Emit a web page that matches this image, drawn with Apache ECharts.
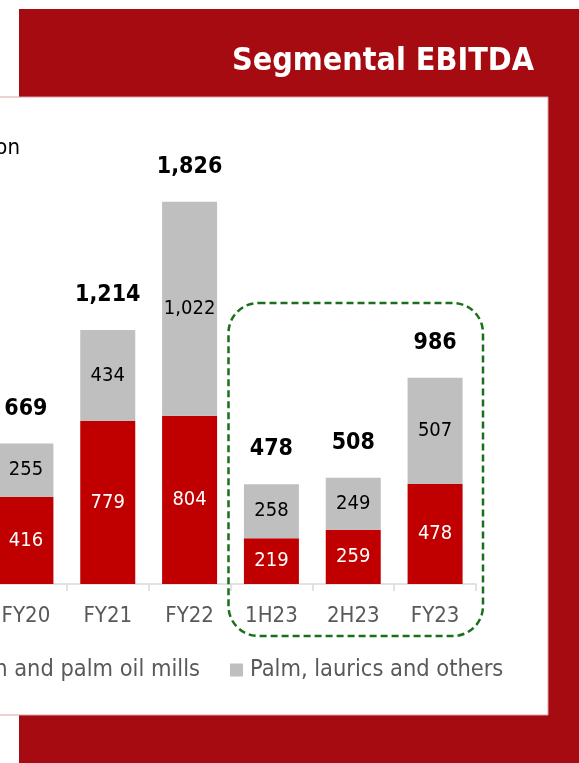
<!DOCTYPE html>
<html><head><meta charset="utf-8">
<script src="https://cdn.jsdelivr.net/npm/echarts@6/dist/echarts.min.js"></script>
<style>html,body{margin:0;padding:0;background:#fff;overflow:hidden;width:579px;height:763px;position:relative}
#c{position:absolute;left:-15px;top:0;width:594px;height:763px}</style>
</head><body><div id="c"></div>
<script>
const categories = ['FY20', 'FY21', 'FY22', '1H23', '2H23', 'FY23'];
const plantation = [416, 779, 804, 219, 259, 478];
const palmLaurics = [255, 434, 1022, 258, 249, 507];
const totals = [669, 1214, 1826, 478, 508, 986];
const seriesNames = ['Plantation and palm oil mills', 'Palm, laurics and others'];
const titleText = 'Segmental EBITDA';
const unitText = 'US$ million';
const highlighted = ['1H23', '2H23', 'FY23'];

const FONT = '"DejaVu Sans Condensed", "DejaVu Sans", sans-serif';
const OFF = 15; // container is shifted 15px left so the first category is partly cut off
const chart = echarts.init(document.getElementById('c'), null, {renderer: 'canvas'});

const option = {
  animation: false,
  backgroundColor: '#ffffff',
  textStyle: {fontFamily: FONT},
  grid: {left: 0, right: 103, top: 165.4, bottom: 179, containLabel: false},
  xAxis: {
    type: 'category',
    data: categories,
    axisLine: {lineStyle: {color: '#D9D9D9', width: 1.5}},
    axisTick: {show: true, length: 7, lineStyle: {color: '#D9D9D9', width: 1.5}},
    axisLabel: {color: '#595959', fontSize: 22, fontFamily: FONT, margin: 20, lineHeight: 24}
  },
  yAxis: {type: 'value', min: 0, max: 2000, show: false, splitLine: {show: false}},
  legend: [
    {
      data: [seriesNames[0]], right: 379, top: 657, padding: 0,
      icon: 'rect', itemWidth: 13, itemHeight: 13,
      textStyle: {color: '#595959', fontSize: 23.4, fontFamily: FONT, lineHeight: 26, padding: [0, 0, 0, 2]}
    },
    {
      data: [seriesNames[1]], left: 230 + OFF, top: 657, padding: 0,
      icon: 'rect', itemWidth: 13, itemHeight: 13,
      textStyle: {color: '#595959', fontSize: 23.4, fontFamily: FONT, lineHeight: 26, padding: [0, 0, 0, 2]}
    }
  ],
  series: [
    {
      name: seriesNames[0], type: 'bar', stack: 'ebitda', data: plantation, barWidth: 55,
      itemStyle: {color: '#C00000'},
      label: {show: true, position: 'inside', color: '#ffffff', fontSize: 20, fontFamily: FONT}
    },
    {
      name: seriesNames[1], type: 'bar', stack: 'ebitda', data: palmLaurics, barWidth: 55,
      itemStyle: {color: '#BFBFBF'},
      label: {show: true, position: 'inside', color: '#000000', fontSize: 20, fontFamily: FONT,
        formatter: p => p.value.toLocaleString('en-US')}
    },
    {
      name: 'Total', type: 'scatter', data: totals, symbolSize: 0, silent: true,
      itemStyle: {opacity: 1, color: '#000000'},
      label: {show: true, position: 'top', distance: 23, color: '#000000', opacity: 1, fontSize: 23,
        fontWeight: 'bold', fontFamily: FONT, lineHeight: 24,
        formatter: p => p.value.toLocaleString('en-US')}
    }
  ]
};
chart.setOption(option);

// decorations
const x0 = chart.convertToPixel({xAxisIndex: 0}, highlighted[0]);
const x1 = chart.convertToPixel({xAxisIndex: 0}, highlighted[highlighted.length - 1]);
const half = (chart.convertToPixel({xAxisIndex: 0}, categories[1]) - chart.convertToPixel({xAxisIndex: 0}, categories[0])) / 2;

chart.setOption({
  graphic: [
    {type: 'rect', z: -20, silent: true, shape: {x: 19 + OFF, y: 9, width: 580, height: 760}, style: {fill: '#A60B11'}},
    {type: 'rect', z: -10, silent: true, shape: {x: 0, y: 97, width: 548 + OFF, height: 618}, style: {fill: '#ffffff', stroke: '#D9A3A5', lineWidth: 1}},
    {type: 'text', z: 5, silent: true, style: {text: titleText, x: 534 + OFF, y: 62, align: 'right', verticalAlign: 'middle', fill: '#ffffff', font: 'bold 32px ' + FONT}},
    {type: 'text', z: 5, silent: true, style: {text: unitText, x: 20 + OFF, y: 148, align: 'right', verticalAlign: 'middle', fill: '#000000', font: '22px ' + FONT}},
    {type: 'rect', z: 10, silent: true,
      shape: {x: x0 - half - 2, y: 303, width: (x1 - x0) + 2 * half + 9, height: 333, r: 30},
      style: {fill: null, stroke: '#1A701A', lineWidth: 2.5, lineDash: [7, 4]}}
  ]
});
</script></body></html>
